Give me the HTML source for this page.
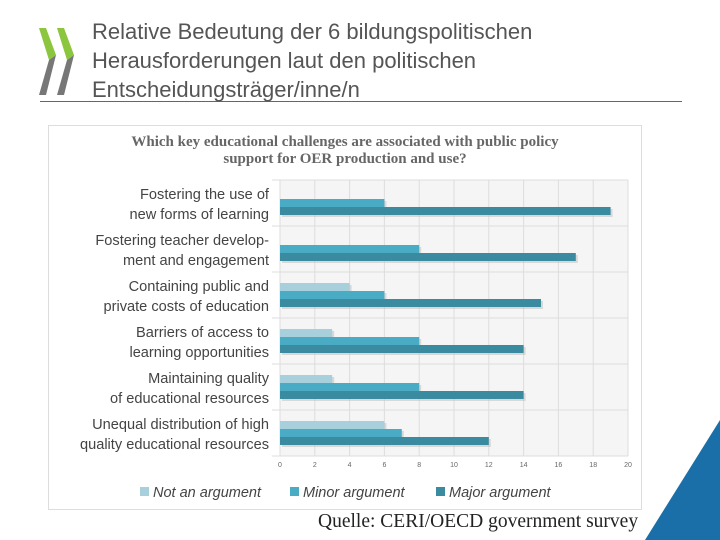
<!DOCTYPE html>
<html><head><meta charset="utf-8"><style>
body{margin:0;width:720px;height:540px;background:#fff;overflow:hidden;position:relative;font-family:"Liberation Sans",sans-serif}
.t{position:absolute;left:92px;top:17px;font-size:22px;line-height:29px;color:#555}
</style></head><body>
<svg width="720" height="540" style="position:absolute;left:0;top:0">
<polygon points="39,28 46,28 56,55 49,60" fill="#8cc63f"/>
<polygon points="57,28 64,28 74,55 67,60" fill="#8cc63f"/>
<polygon points="49,60 56,55 46,95 39,95" fill="#777"/>
<polygon points="67,60 74,55 64,95 57,95" fill="#777"/>
<line x1="40" y1="101.5" x2="682" y2="101.5" stroke="#666" stroke-width="1"/>
<polygon points="720,420 720,540 645,540" fill="#1a6fa8"/>
</svg>
<div class="t">Relative Bedeutung der 6 bildungspolitischen<br>Herausforderungen laut den politischen<br>Entscheidungsträger/inne/n</div>
<svg id="chart" width="720" height="540" style="position:absolute;left:0;top:0"></svg>
<div style="position:absolute;left:318px;top:511px;font-family:'Liberation Serif',serif;font-size:19.5px;color:#222">Quelle: CERI/OECD government survey</div>
<script>
const categories=["Fostering the use of|new forms of learning","Fostering teacher develop-|ment and engagement","Containing public and|private costs of education","Barriers of access to|learning opportunities","Maintaining quality|of educational resources","Unequal distribution of high|quality educational resources"];
const notArg=[0,0,4,3,3,6];
const minorArg=[6,8,6,8,8,7];
const majorArg=[19,17,15,14,14,12];
const ticks=[0,2,4,6,8,10,12,14,16,18,20];
const seriesNames=["Not an argument","Minor argument","Major argument"];
const colors=["#a8cfdc","#4aacc4","#3a8aa0"];
const NS="http://www.w3.org/2000/svg",svgEl=document.getElementById("chart");
function mk(t,a,p){const e=document.createElementNS(NS,t);for(const k in a)e.setAttribute(k,a[k]);(p||svgEl).appendChild(e);return e;}
const x0=280,x1=628,plotTop=180,rowH=46;
const xs=v=>x0+(x1-x0)*v/20;
const frame=mk("rect",{x:48.5,y:125.5,width:593,height:384,fill:"#fff",stroke:"#ddd"});


const bg=mk("rect",{x:x0,y:plotTop,width:x1-x0,height:rowH*6,fill:"#f5f5f5"});


const ct=mk("text",{x:345,y:146,"text-anchor":"middle","font-family":"Liberation Serif,serif","font-weight":"bold","font-size":"15",fill:"#666"});


ct.innerHTML='<tspan x="345">Which key educational challenges are associated with public policy</tspan><tspan x="345" dy="17">support for OER production and use?</tspan>';
ticks.forEach(t=>{const l=mk("line",{x1:xs(t),x2:xs(t),y1:plotTop,y2:plotTop+rowH*6,stroke:"#ddd"});


const tx=mk("text",{x:xs(t),y:467,"text-anchor":"middle","font-size":"7",fill:"#666"});tx.textContent=t;

});
for(let i=0;i<=6;i++){const l=mk("line",{x1:272,x2:x1,y1:plotTop+i*rowH,y2:plotTop+i*rowH,stroke:"#ddd"});

}
const series=[notArg,minorArg,majorArg];
categories.forEach((c,i)=>{
 const parts=c.split("|");const y=plotTop+i*rowH;
 const lb=mk("text",{x:269,"text-anchor":"end","font-size":"14.6",fill:"#444"});
 
 
 lb.innerHTML=`<tspan x="269" y="${y+19}">${parts[0]}</tspan><tspan x="269" y="${y+39}">${parts[1]}</tspan>`;
 series.forEach((s,j)=>{if(!s[i])return;const by=y+rowH-35+8*j;
  const sh=mk("rect",{x:x0+2,y:by+2,width:xs(s[i])-x0,height:8,fill:"#bbb",opacity:0.5});
  
  
  const r=mk("rect",{x:x0,y:by,width:xs(s[i])-x0,height:8,fill:colors[j]});
  
  });
});
const lx=[140,290,436];
seriesNames.forEach((n,j)=>{const r=mk("rect",{x:lx[j],y:487,width:9,height:9,fill:colors[j]});
 
 
 const t=mk("text",{x:lx[j]+13,y:497,"font-size":"14.5","font-style":"italic",fill:"#444"});t.textContent=n;
 
 });
</script>
</body></html>
